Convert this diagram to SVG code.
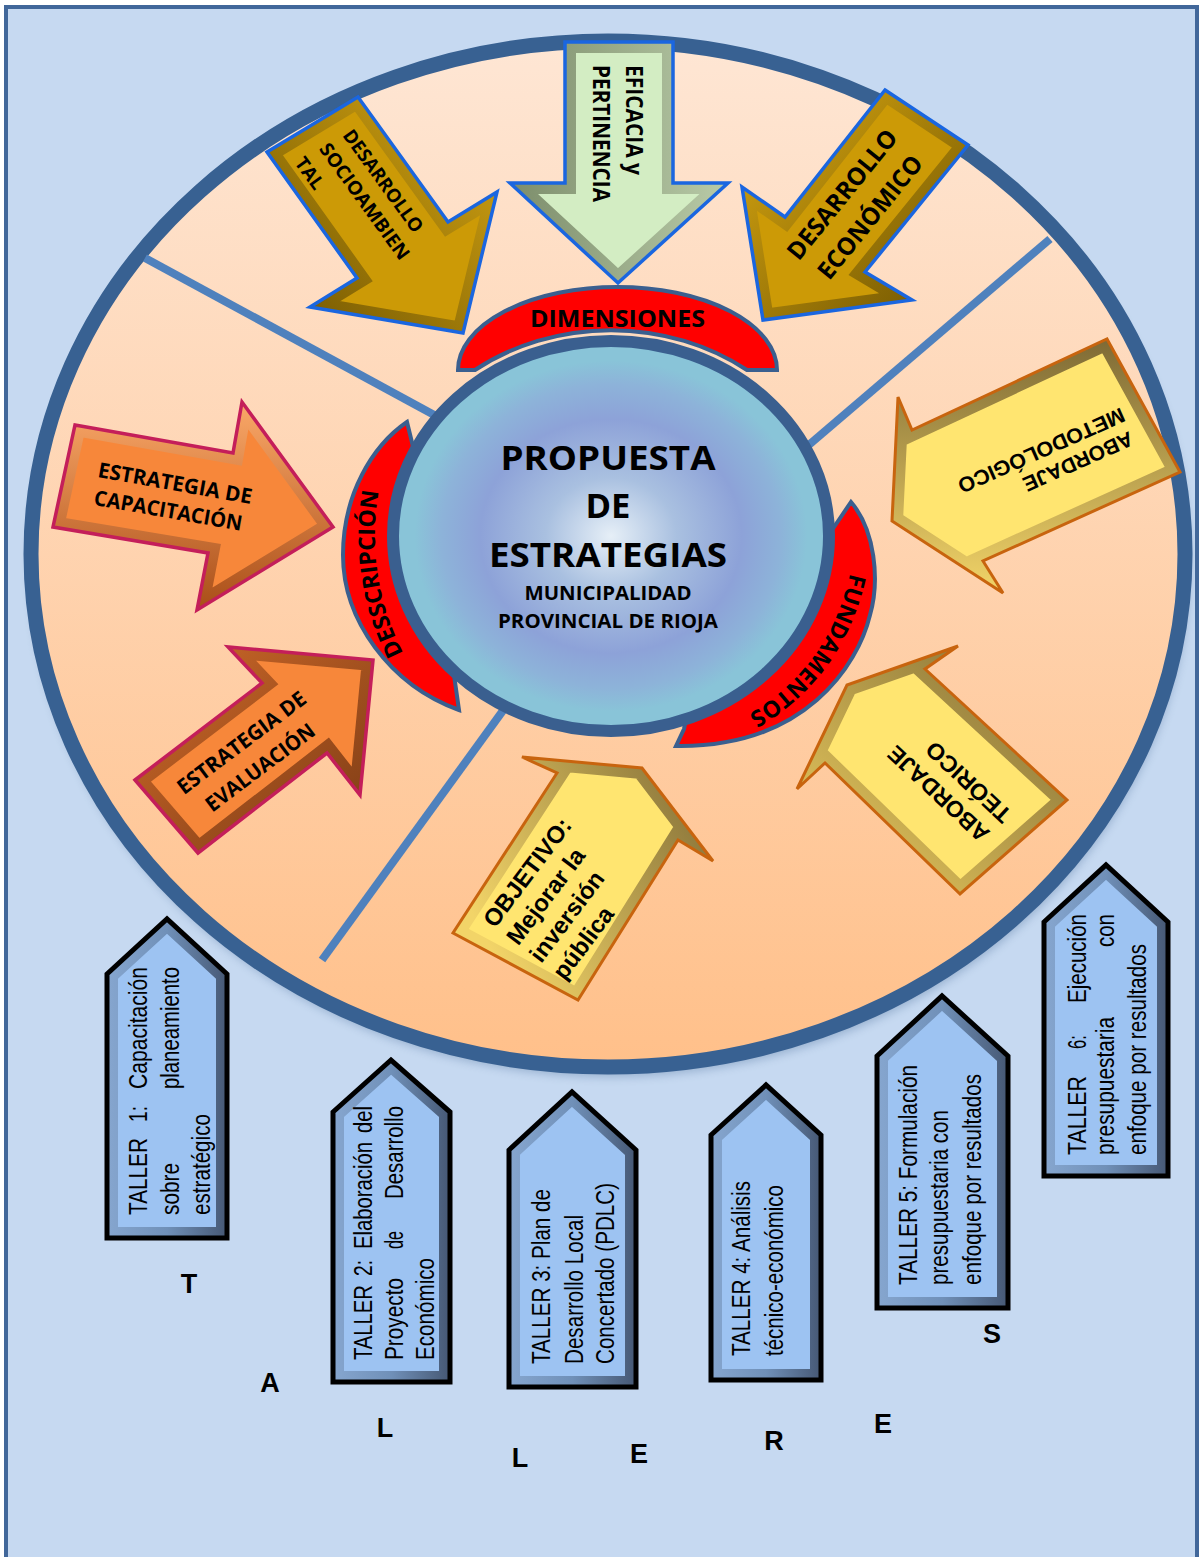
<svg xmlns="http://www.w3.org/2000/svg" width="1200" height="1557" viewBox="0 0 1200 1557">
<style>
.cb{font-family:'Open Sans','Noto Sans','DejaVu Sans',sans-serif;font-weight:700;fill:#000}
.ab{font-family:'Liberation Sans',Arial,sans-serif;font-weight:700;fill:#000}
.an{font-family:'Liberation Sans',Arial,sans-serif;font-weight:400;fill:#000}
.div{stroke:#4F81BD;stroke-width:8;fill:none}
.band{fill:#FF0000;stroke:#3A5F8F;stroke-width:4}
.bev{fill:none;stroke-width:22;stroke-linejoin:miter}
.olg{fill:none;stroke:#1A66E0;stroke-width:3.5}
.olo{fill:none;stroke:#C41E5A;stroke-width:3.5}
.oly{fill:none;stroke:#C8640E;stroke-width:3}
.olb{fill:none;stroke:#000;stroke-width:5}
.lt{font-family:'Liberation Sans',Arial,sans-serif;font-weight:700;font-size:27px;fill:#000;text-anchor:middle}
</style>
<defs>
<linearGradient id="gEll" x1="0" y1="0" x2="0" y2="1"><stop offset="0" stop-color="#FEE6D4"/><stop offset="1" stop-color="#FFC08A"/></linearGradient>
<radialGradient id="gCir" cx="0.5" cy="0.5" r="0.5"><stop offset="0" stop-color="#E6EFF7"/><stop offset="0.3" stop-color="#A9C0E0"/><stop offset="0.6" stop-color="#8DA2D8"/><stop offset="0.78" stop-color="#8DB3D9"/><stop offset="0.9" stop-color="#89C4D8"/><stop offset="1" stop-color="#89C4D8"/></radialGradient>
<linearGradient id="gGreen" x1="0" y1="0" x2="1" y2="0"><stop offset="0" stop-color="#7C8D6B"/><stop offset="1" stop-color="#B9CBA8"/></linearGradient>
<linearGradient id="gGoldA" x1="0" y1="1" x2="1" y2="0"><stop offset="0" stop-color="#6F5400"/><stop offset="1" stop-color="#D6A614"/></linearGradient>
<linearGradient id="gGoldB" x1="0" y1="0" x2="1" y2="1"><stop offset="0" stop-color="#DCAA12"/><stop offset="1" stop-color="#6A5000"/></linearGradient>
<linearGradient id="gOrA" x1="0" y1="0" x2="0" y2="1"><stop offset="0" stop-color="#FBA868"/><stop offset="1" stop-color="#A94E18"/></linearGradient>
<linearGradient id="gOrB" x1="0" y1="0" x2="1" y2="1"><stop offset="0" stop-color="#D06A2A"/><stop offset="1" stop-color="#7A3A14"/></linearGradient>
<linearGradient id="gYeA" x1="0" y1="0" x2="0" y2="1"><stop offset="0" stop-color="#7E6A35"/><stop offset="1" stop-color="#F2D468"/></linearGradient>
<linearGradient id="gYeB" x1="1" y1="0" x2="0" y2="1"><stop offset="0" stop-color="#7E6A35"/><stop offset="1" stop-color="#F0D060"/></linearGradient>
<linearGradient id="gYeC" x1="1" y1="0" x2="0" y2="0.5"><stop offset="0" stop-color="#7E6A35"/><stop offset="1" stop-color="#F2D468"/></linearGradient>
<linearGradient id="gBlue" x1="0" y1="0" x2="1" y2="0"><stop offset="0" stop-color="#86A6CF"/><stop offset="0.5" stop-color="#7090B8"/><stop offset="1" stop-color="#465874"/></linearGradient>
<filter id="fSh" x="-10%" y="-10%" width="120%" height="120%"><feGaussianBlur stdDeviation="5"/></filter>

<polygon id="pEf" points="565,42 673,42 673,183 728,183 618,283 510,183 565,183"/>
<polygon id="pSo" points="267,152 358,97 448,222 497,192 463,333 310,307 357,278"/>
<polygon id="pEc" points="885,90 968,145 865,272 912,300 763,320 742,187 785,217"/>
<polygon id="pCa" points="75,425 233,453 242,402 333,527 197,610 208,553 53,527"/>
<polygon id="pEv" points="135,780 262,683 228,647 373,660 360,795 327,753 198,853"/>
<polygon id="pMe" points="1107,339 1180,472 983,561 1003,593 892,521 898,397 912,430"/>
<polygon id="pTe" points="958,646 925,669 1067,800 960,894 825,763 797,789 847,685"/>
<polygon id="pOb" points="522,757 557,773 453,933 578,1000 678,840 713,861 642,768"/>
<polygon id="pT1" points="107,974 167,919 227,974 227,1238 107,1238"/>
<polygon id="pT2" points="333,1112 391,1060 450,1112 450,1382 333,1382"/>
<polygon id="pT3" points="509,1150 572,1092 636,1150 636,1387 509,1387"/>
<polygon id="pT4" points="711,1135 766,1085 821,1135 821,1380 711,1380"/>
<polygon id="pT5" points="877,1056 942,996 1008,1056 1008,1308 877,1308"/>
<polygon id="pT6" points="1044,922 1106,865 1168,922 1168,1176 1044,1176"/>
<clipPath id="cEf"><use href="#pEf"/></clipPath>
<clipPath id="cSo"><use href="#pSo"/></clipPath>
<clipPath id="cEc"><use href="#pEc"/></clipPath>
<clipPath id="cCa"><use href="#pCa"/></clipPath>
<clipPath id="cEv"><use href="#pEv"/></clipPath>
<clipPath id="cMe"><use href="#pMe"/></clipPath>
<clipPath id="cTe"><use href="#pTe"/></clipPath>
<clipPath id="cOb"><use href="#pOb"/></clipPath>
<clipPath id="cT1"><use href="#pT1"/></clipPath>
<clipPath id="cT2"><use href="#pT2"/></clipPath>
<clipPath id="cT3"><use href="#pT3"/></clipPath>
<clipPath id="cT4"><use href="#pT4"/></clipPath>
<clipPath id="cT5"><use href="#pT5"/></clipPath>
<clipPath id="cT6"><use href="#pT6"/></clipPath>
<path id="tpDesc" d="M444,710 A236,246 0 0 1 444,362" fill="none"/>
<path id="tpFund" d="M853,558 Q835,670 735,722" fill="none"/>
</defs>

<!-- background frame -->
<rect x="6" y="7" width="1191" height="1560" fill="#C6D9F1" stroke="#41679A" stroke-width="4"/>

<!-- big ellipse -->
<g id="ring">
<ellipse cx="610" cy="562" rx="580" ry="515" fill="#5F7FA6" opacity="0.45" filter="url(#fSh)"/>
<ellipse cx="608" cy="554" rx="577" ry="513" fill="url(#gEll)" stroke="#386192" stroke-width="15"/>
</g>

<!-- divider lines -->
<g id="connectors">
<line class="div" x1="145" y1="258" x2="460" y2="429"/>
<line class="div" x1="1050" y1="239" x2="790" y2="461"/>
<line class="div" x1="322" y1="960" x2="515" y2="694"/>
</g>

<g id="node-eficacia">
<use href="#pEf" fill="#D3EDC3"/>
<use href="#pEf" class="bev" stroke="url(#gGreen)" clip-path="url(#cEf)"/>
<use href="#pEf" class="olg"/>
<text class="cb" font-size="23" transform="translate(626,65) rotate(90)" textLength="110" lengthAdjust="spacingAndGlyphs">EFICACIA y</text>
<text class="cb" font-size="23" transform="translate(593,65) rotate(90)" textLength="137" lengthAdjust="spacingAndGlyphs">PERTINENCIA</text>
</g>

<g id="node-socioambiental">
<use href="#pSo" fill="#CC9A06"/>
<use href="#pSo" class="bev" stroke="url(#gGoldA)" clip-path="url(#cSo)"/>
<use href="#pSo" class="olg"/>
<g transform="translate(342,135.5) rotate(54)">
<text class="cb" font-size="19" x="0" y="0" textLength="122" lengthAdjust="spacingAndGlyphs">DESARROLLO</text>
<text class="cb" font-size="19" x="-3" y="27" textLength="139" lengthAdjust="spacingAndGlyphs">SOCIOAMBIEN</text>
<text class="cb" font-size="19" x="-6" y="55">TAL</text>
</g>
</g>

<g id="node-economico">
<use href="#pEc" fill="#CC9A06"/>
<use href="#pEc" class="bev" stroke="url(#gGoldB)" clip-path="url(#cEc)"/>
<use href="#pEc" class="olg"/>
<g transform="translate(848.7,199.9) rotate(-51)">
<text class="cb" font-size="24.5" x="0" y="0" text-anchor="middle" textLength="159" lengthAdjust="spacingAndGlyphs">DESARROLLO</text>
<text class="cb" font-size="24.5" x="0" y="36" text-anchor="middle" textLength="151" lengthAdjust="spacingAndGlyphs">ECONÓMICO</text>
</g>
</g>

<g id="node-capacitacion">
<use href="#pCa" fill="#F7873A"/>
<use href="#pCa" class="bev" stroke="url(#gOrA)" clip-path="url(#cCa)"/>
<use href="#pCa" class="olo"/>
<g transform="translate(97,477) rotate(10)">
<text class="cb" font-size="21" x="0" y="0" textLength="156" lengthAdjust="spacingAndGlyphs">ESTRATEGIA DE</text>
<text class="cb" font-size="21" x="1" y="28" textLength="150" lengthAdjust="spacingAndGlyphs">CAPACITACIÓN</text>
</g>
</g>

<g id="node-evaluacion">
<use href="#pEv" fill="#F7873A"/>
<use href="#pEv" class="bev" stroke="url(#gOrB)" clip-path="url(#cEv)"/>
<use href="#pEv" class="olo"/>
<g transform="translate(246,748.5) rotate(-37)">
<text class="cb" font-size="21" x="0" y="0" text-anchor="middle" textLength="155" lengthAdjust="spacingAndGlyphs">ESTRATEGIA DE</text>
<text class="cb" font-size="21" x="0" y="31" text-anchor="middle" textLength="131" lengthAdjust="spacingAndGlyphs">EVALUACIÓN</text>
</g>
</g>

<g id="node-metodologico">
<use href="#pMe" fill="#FFE570"/>
<use href="#pMe" class="bev" stroke="url(#gYeA)" clip-path="url(#cMe)"/>
<use href="#pMe" class="oly"/>
<g transform="translate(1129,431) rotate(156)">
<text class="ab" font-size="21" x="0" y="0" textLength="118" lengthAdjust="spacingAndGlyphs">ABORDAJE</text>
<text class="ab" font-size="21" x="-2" y="25" textLength="180" lengthAdjust="spacingAndGlyphs">METODOLÓGICO</text>
</g>
</g>

<g id="node-teorico">
<use href="#pTe" fill="#FFE570"/>
<use href="#pTe" class="bev" stroke="url(#gYeB)" clip-path="url(#cTe)"/>
<use href="#pTe" class="oly"/>
<g transform="translate(991,832) rotate(223)">
<text class="ab" font-size="23" x="0" y="0" textLength="129" lengthAdjust="spacingAndGlyphs">ABORDAJE</text>
<text class="ab" font-size="23" x="-3" y="29" textLength="107" lengthAdjust="spacingAndGlyphs">TEÓRICO</text>
</g>
</g>

<g id="node-objetivo">
<use href="#pOb" fill="#FFE570"/>
<use href="#pOb" class="bev" stroke="url(#gYeC)" clip-path="url(#cOb)"/>
<use href="#pOb" class="oly"/>
<g transform="translate(495,929) rotate(-53)">
<text class="ab" font-size="24" x="0" y="0">OBJETIVO:</text>
<text class="ab" font-size="24" x="0" y="29">Mejorar la</text>
<text class="ab" font-size="24" x="0" y="58">inversión</text>
<text class="ab" font-size="24" x="0" y="87">pública</text>
</g>
</g>

<g id="node-dimensiones">
<path class="band" d="M458,370 A159.5,83 0 0 1 777,370 L747,370 A230,206 0 0 0 475,370 Z"/>
<text class="cb" font-size="23" x="617.5" y="327" text-anchor="middle" textLength="175" lengthAdjust="spacingAndGlyphs">DIMENSIONES</text>
</g>

<g id="node-descripcion">
<path class="band" d="M407,422 C372,446 343,495 343,555 C343,620 390,685 459,710 L453,668 L500,600 L450,470 L417,463 Z"/>
<text class="cb" font-size="23"><textPath href="#tpDesc" startOffset="40%" text-anchor="middle">DESSCRIPCIÓN</textPath></text>
</g>

<g id="node-fundamentos">
<path class="band" d="M851,502 C875,530 880,580 870,615 C858,665 805,748 676,746 L684,729 L700,650 L800,560 L830,533 Z"/>
<text class="cb" font-size="23"><textPath href="#tpFund" startOffset="50%" text-anchor="middle">FUNDAMENTOS</textPath></text>
</g>

<g id="node-propuesta">
<ellipse cx="611" cy="536" rx="218" ry="195" fill="url(#gCir)" stroke="#3A5F8F" stroke-width="12"/>
<text class="cb" font-size="34" x="608" y="470" text-anchor="middle" textLength="215" lengthAdjust="spacingAndGlyphs">PROPUESTA</text>
<text class="cb" font-size="34" x="608" y="518" text-anchor="middle" textLength="45" lengthAdjust="spacingAndGlyphs">DE</text>
<text class="cb" font-size="34" x="608" y="567" text-anchor="middle" textLength="238" lengthAdjust="spacingAndGlyphs">ESTRATEGIAS</text>
<text class="cb" font-size="20" x="608" y="600" text-anchor="middle" textLength="167" lengthAdjust="spacingAndGlyphs">MUNICIPALIDAD</text>
<text class="cb" font-size="20" x="608" y="628" text-anchor="middle" textLength="220" lengthAdjust="spacingAndGlyphs">PROVINCIAL DE RIOJA</text>
</g>

<g id="node-taller1">
<use href="#pT1" fill="#9DC3F2"/>
<use href="#pT1" class="bev" stroke="url(#gBlue)" clip-path="url(#cT1)"/>
<use href="#pT1" class="olb"/>
<g class="an" font-size="25" transform="translate(147,1215) rotate(-90)">
<text class="an" x="0" y="0" textLength="77" lengthAdjust="spacingAndGlyphs">TALLER</text>
<text class="an" x="93" y="0" textLength="16" lengthAdjust="spacingAndGlyphs">1:</text>
<text class="an" x="126" y="0" textLength="122" lengthAdjust="spacingAndGlyphs">Capacitación</text>
<text class="an" x="0" y="32" textLength="52" lengthAdjust="spacingAndGlyphs">sobre</text>
<text class="an" x="126" y="32" textLength="122" lengthAdjust="spacingAndGlyphs">planeamiento</text>
<text class="an" x="0" y="63" textLength="101" lengthAdjust="spacingAndGlyphs">estratégico</text>
</g>
</g>

<g id="node-taller2">
<use href="#pT2" fill="#9DC3F2"/>
<use href="#pT2" class="bev" stroke="url(#gBlue)" clip-path="url(#cT2)"/>
<use href="#pT2" class="olb"/>
<g font-size="25" transform="translate(372,1360) rotate(-90)">
<text class="an" x="0" y="0" textLength="75" lengthAdjust="spacingAndGlyphs">TALLER</text>
<text class="an" x="84" y="0" textLength="16" lengthAdjust="spacingAndGlyphs">2:</text>
<text class="an" x="111" y="0" textLength="107" lengthAdjust="spacingAndGlyphs">Elaboración</text>
<text class="an" x="227" y="0" textLength="27" lengthAdjust="spacingAndGlyphs">del</text>
<text class="an" x="0" y="31" textLength="82" lengthAdjust="spacingAndGlyphs">Proyecto</text>
<text class="an" x="111" y="31" textLength="18" lengthAdjust="spacingAndGlyphs">de</text>
<text class="an" x="161" y="31" textLength="93" lengthAdjust="spacingAndGlyphs">Desarrollo</text>
<text class="an" x="0" y="62" textLength="102" lengthAdjust="spacingAndGlyphs">Económico</text>
</g>
</g>

<g id="node-taller3">
<use href="#pT3" fill="#9DC3F2"/>
<use href="#pT3" class="bev" stroke="url(#gBlue)" clip-path="url(#cT3)"/>
<use href="#pT3" class="olb"/>
<g font-size="25" transform="translate(550,1364) rotate(-90)">
<text class="an" x="0" y="0" textLength="175" lengthAdjust="spacingAndGlyphs">TALLER 3: Plan de</text>
<text class="an" x="0" y="33" textLength="149" lengthAdjust="spacingAndGlyphs">Desarrollo Local</text>
<text class="an" x="0" y="64" textLength="181" lengthAdjust="spacingAndGlyphs">Concertado (PDLC)</text>
</g>
</g>

<g id="node-taller4">
<use href="#pT4" fill="#9DC3F2"/>
<use href="#pT4" class="bev" stroke="url(#gBlue)" clip-path="url(#cT4)"/>
<use href="#pT4" class="olb"/>
<g font-size="25" transform="translate(750,1356) rotate(-90)">
<text class="an" x="0" y="0" textLength="175" lengthAdjust="spacingAndGlyphs">TALLER 4: Análisis</text>
<text class="an" x="0" y="33" textLength="171" lengthAdjust="spacingAndGlyphs">técnico-económico</text>
</g>
</g>

<g id="node-taller5">
<use href="#pT5" fill="#9DC3F2"/>
<use href="#pT5" class="bev" stroke="url(#gBlue)" clip-path="url(#cT5)"/>
<use href="#pT5" class="olb"/>
<g font-size="25" transform="translate(917,1285) rotate(-90)">
<text class="an" x="0" y="0" textLength="220" lengthAdjust="spacingAndGlyphs">TALLER 5: Formulación</text>
<text class="an" x="0" y="31" textLength="175" lengthAdjust="spacingAndGlyphs">presupuestaria con</text>
<text class="an" x="0" y="64" textLength="211" lengthAdjust="spacingAndGlyphs">enfoque por resultados</text>
</g>
</g>

<g id="node-taller6">
<use href="#pT6" fill="#9DC3F2"/>
<use href="#pT6" class="bev" stroke="url(#gBlue)" clip-path="url(#cT6)"/>
<use href="#pT6" class="olb"/>
<g font-size="25" transform="translate(1086,1155) rotate(-90)">
<text class="an" x="0" y="0" textLength="79" lengthAdjust="spacingAndGlyphs">TALLER</text>
<text class="an" x="106" y="0" textLength="14" lengthAdjust="spacingAndGlyphs">6:</text>
<text class="an" x="152" y="0" textLength="89" lengthAdjust="spacingAndGlyphs">Ejecución</text>
<text class="an" x="0" y="28" textLength="138" lengthAdjust="spacingAndGlyphs">presupuestaria</text>
<text class="an" x="208" y="28" textLength="33" lengthAdjust="spacingAndGlyphs">con</text>
<text class="an" x="0" y="60" textLength="211" lengthAdjust="spacingAndGlyphs">enfoque por resultados</text>
</g>
</g>

<g id="node-talleres-letters">
<text class="lt" x="189" y="1293">T</text>
<text class="lt" x="270" y="1392">A</text>
<text class="lt" x="385" y="1437">L</text>
<text class="lt" x="520" y="1467">L</text>
<text class="lt" x="639" y="1463">E</text>
<text class="lt" x="774" y="1450">R</text>
<text class="lt" x="883" y="1433">E</text>
<text class="lt" x="992" y="1343">S</text>
</g>
</svg>
